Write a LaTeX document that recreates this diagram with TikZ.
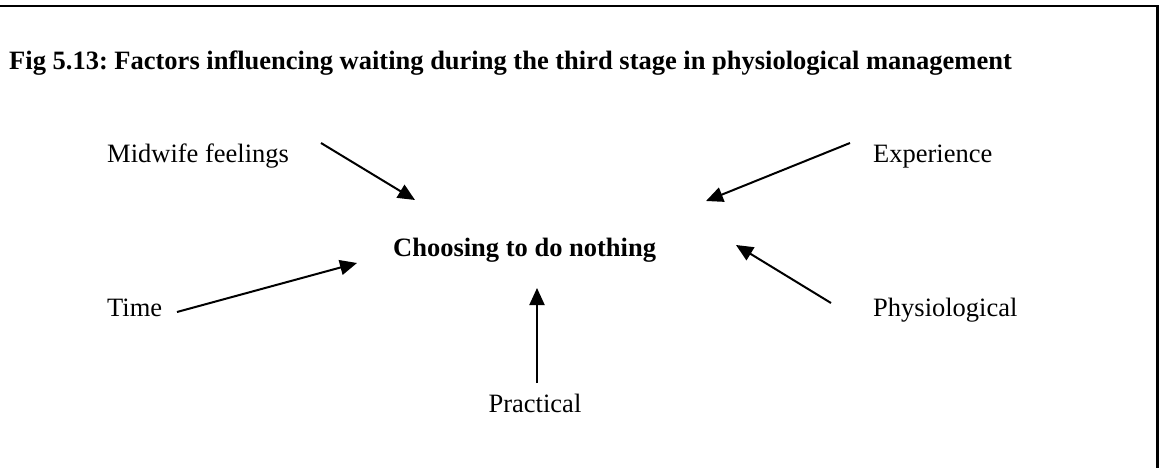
\documentclass[tikz,border=0pt]{standalone}
\usepackage{fontspec}
\setmainfont{Liberation Serif}
\usetikzlibrary{arrows.meta}
\frenchspacing
\begin{document}
\begin{tikzpicture}[x=1pt,y=-1pt,
  lbl/.style={anchor=base west,inner sep=0pt,font=\fontsize{26.5}{30}\selectfont},
  ttl/.style={anchor=base west,inner sep=0pt,font=\fontsize{26.5}{30}\selectfont\bfseries},
  arr/.style={line width=2pt,-{Triangle[length=17pt,width=15pt]}},
  frame/.style={line width=2.5pt}]
\useasboundingbox (0,0) rectangle (1159,468);
\draw[frame] (0,6) -- (1157.5,6) -- (1157.5,468);
\node[ttl] (title) at (9,70) {Fig 5.13: Factors influencing waiting during the third stage in physiological management};
\node[lbl] (midwife) at (107,163) {Midwife feelings};
\node[lbl] (exp) at (873,163) {Experience};
\node[ttl] (center) at (393,256) {Choosing to do nothing};
\node[lbl] (time) at (107,316) {Time};
\node[lbl] (phys) at (873,316) {Physiological};
\node[lbl,anchor=base] (prac) at (535,412) {Practical};
\coordinate (m1) at (321,143); \coordinate (m2) at (415,200);
\coordinate (e1) at (850,143); \coordinate (e2) at (706,201);
\coordinate (t1) at (177,312); \coordinate (t2) at (357,263);
\coordinate (p1) at (831,303); \coordinate (p2) at (736,245);
\coordinate (r1) at (537,383); \coordinate (r2) at (537,288);
\draw[arr] (m1) -- (m2);
\draw[arr] (e1) -- (e2);
\draw[arr] (t1) -- (t2);
\draw[arr] (p1) -- (p2);
\draw[arr] (r1) -- (r2);
\end{tikzpicture}
\end{document}
